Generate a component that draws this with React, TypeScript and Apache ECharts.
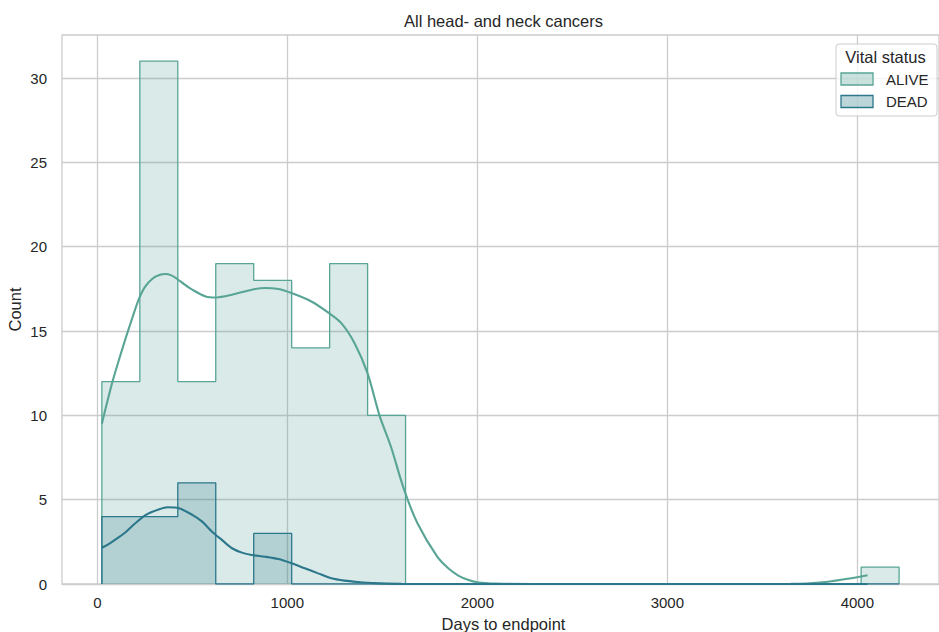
import React, { useEffect, useRef } from "react";
import * as echarts from "echarts";

const binEdges = [24, 223.8, 423.6, 623.4, 823.2, 1023, 1222.8, 1422.6, 1622.4, 1822.2, 2022, 2221.8, 2421.6, 2621.4, 2821.2, 3021, 3220.8, 3420.6, 3620.4, 3820.2, 4020, 4219.8];
const aliveCounts = [12, 31, 12, 19, 18, 14, 19, 10, 0, 0, 0, 0, 0, 0, 0, 0, 0, 0, 0, 0, 1];
const deadCounts = [4, 4, 6, 0, 3, 0, 0, 0, 0, 0, 0, 0, 0, 0, 0, 0, 0, 0, 0, 0, 0];

const aliveKdeX = [24, 50, 80, 117, 150, 185, 217, 250, 290, 330, 357, 390, 421, 460, 500, 570, 625, 709, 813, 883, 953, 1022, 1127, 1218, 1284, 1354, 1422, 1485, 1545, 1615, 1685, 1789, 1850, 1900, 1950, 2000, 2100, 2300, 2700, 3100, 3500, 3650, 3750, 3845, 3950, 4054];
const aliveKdeY = [9.5, 10.7, 12.0, 13.4, 14.6, 15.8, 16.85, 17.6, 18.1, 18.33, 18.38, 18.3, 18.08, 17.75, 17.45, 17.05, 16.99, 17.15, 17.45, 17.55, 17.49, 17.25, 16.75, 16.07, 15.47, 14.28, 12.5, 10.0, 8.15, 5.58, 3.6, 1.62, 0.9, 0.5, 0.25, 0.1, 0.02, 0, 0, 0, 0, 0.01, 0.04, 0.13, 0.31, 0.52];

const deadKdeX = [24, 64, 110, 152, 200, 256, 326, 369, 430, 500, 552, 604, 657, 709, 761, 813, 883, 953, 1022, 1092, 1162, 1232, 1301, 1371, 1458, 1600, 1800, 2200, 2700, 3200, 3700, 4054];
const deadKdeY = [2.15, 2.4, 2.75, 3.1, 3.6, 4.1, 4.43, 4.55, 4.49, 4.1, 3.7, 3.1, 2.6, 2.12, 1.86, 1.72, 1.62, 1.48, 1.23, 0.93, 0.63, 0.34, 0.2, 0.12, 0.05, 0.01, 0, 0, 0, 0, 0, 0];

const xTicks = [0, 1000, 2000, 3000, 4000];
const yTicks = [0, 5, 10, 15, 20, 25, 30];

const FONT = "Liberation Sans, Arial, sans-serif";
const TXT = "#262626";
const ALIVE_LINE = "#58a595";
const ALIVE_FILL = "rgba(80,158,146,0.3)";
const DEAD_LINE = "#2b778b";
const DEAD_FILL = "rgba(39,118,132,0.31)";

function stepPoints(counts: number[]) {
  const pts: number[][] = [[binEdges[0], 0]];
  counts.forEach((c, i) => {
    pts.push([binEdges[i], c]);
    pts.push([binEdges[i + 1], c]);
  });
  pts.push([binEdges[binEdges.length - 1], 0]);
  return pts;
}

export default function App() {
  const ref = useRef<HTMLDivElement>(null);
  useEffect(() => {
    if (!ref.current) return;
    const chart = echarts.init(ref.current, undefined, { renderer: "svg" });
    const option: any = {
      animation: false,
      backgroundColor: "#ffffff",
      grid: {
        left: 62,
        top: 35,
        width: 883,
        height: 549,
        show: true,
        borderColor: "#cccccc",
        borderWidth: 1.3,
        backgroundColor: "transparent",
      },
      xAxis: {
        type: "value",
        min: -185.8,
        max: 4429.8,
        axisLine: { show: false },
        axisTick: { show: false, customValues: xTicks },
        axisLabel: {
          customValues: xTicks,
          formatter: (v: number) => String(v),
          color: TXT,
          fontSize: 15,
          fontFamily: FONT,
          margin: 11,
        },
        splitLine: { show: true, lineStyle: { color: "#cccccc", width: 1.3 } },
      },
      yAxis: {
        type: "value",
        min: 0,
        max: 32.55,
        axisLine: { show: false },
        axisTick: { show: false, customValues: yTicks },
        axisLabel: {
          customValues: yTicks,
          formatter: (v: number) => String(v),
          color: TXT,
          fontSize: 15,
          fontFamily: FONT,
          margin: 15,
        },
        splitLine: { show: true, lineStyle: { color: "#cccccc", width: 1.3 } },
      },
      series: [
        {
          name: "ALIVE",
          type: "line",
          data: stepPoints(aliveCounts),
          symbol: "none",
          lineStyle: { color: ALIVE_LINE, width: 1.3 },
          areaStyle: { color: ALIVE_FILL, origin: 0 },
          z: 2,
        },
        {
          name: "DEAD",
          type: "line",
          data: stepPoints(deadCounts),
          symbol: "none",
          lineStyle: { color: DEAD_LINE, width: 1.3 },
          areaStyle: { color: DEAD_FILL, origin: 0 },
          z: 3,
        },
        {
          name: "ALIVE KDE",
          type: "line",
          data: aliveKdeX.map((x, i) => [x, aliveKdeY[i]]),
          symbol: "none",
          smooth: 0.3,
          lineStyle: { color: ALIVE_LINE, width: 2.1 },
          z: 4,
        },
        {
          name: "DEAD KDE",
          type: "line",
          data: deadKdeX.map((x, i) => [x, deadKdeY[i]]),
          symbol: "none",
          smooth: 0.3,
          lineStyle: { color: DEAD_LINE, width: 2.1 },
          z: 5,
        },
      ],
      graphic: [
        {
          type: "text",
          x: 503.5,
          y: 21,
          z: 100,
          style: { text: "All head- and neck cancers", fill: TXT, fontSize: 16.5, fontFamily: FONT, align: "center", verticalAlign: "middle" },
        },
        {
          type: "text",
          x: 503.5,
          y: 623.5,
          z: 100,
          style: { text: "Days to endpoint", fill: TXT, fontSize: 16.5, fontFamily: FONT, align: "center", verticalAlign: "middle" },
        },
        {
          type: "text",
          x: 14.5,
          y: 309.5,
          rotation: Math.PI / 2,
          z: 100,
          style: { text: "Count", fill: TXT, fontSize: 16.5, fontFamily: FONT, align: "center", verticalAlign: "middle" },
        },
        {
          type: "rect",
          z: 100,
          shape: { x: 836, y: 44, width: 101, height: 72, r: 3 },
          style: { fill: "rgba(255,255,255,0.8)", stroke: "#cccccc", lineWidth: 1 },
        },
        {
          type: "text",
          x: 885.5,
          y: 56.5,
          z: 101,
          style: { text: "Vital status", fill: TXT, fontSize: 16.5, fontFamily: FONT, align: "center", verticalAlign: "middle" },
        },
        {
          type: "rect",
          z: 101,
          shape: { x: 841, y: 73, width: 32, height: 12 },
          style: { fill: ALIVE_FILL, stroke: ALIVE_LINE, lineWidth: 1.3 },
        },
        {
          type: "text",
          x: 886,
          y: 79.5,
          z: 101,
          style: { text: "ALIVE", fill: TXT, fontSize: 15, fontFamily: FONT, align: "left", verticalAlign: "middle" },
        },
        {
          type: "rect",
          z: 101,
          shape: { x: 841, y: 95.5, width: 32, height: 12 },
          style: { fill: DEAD_FILL, stroke: DEAD_LINE, lineWidth: 1.3 },
        },
        {
          type: "text",
          x: 886,
          y: 101.5,
          z: 101,
          style: { text: "DEAD", fill: TXT, fontSize: 15, fontFamily: FONT, align: "left", verticalAlign: "middle" },
        },
      ],
    };
    chart.setOption(option);
    return () => chart.dispose();
  }, []);
  return (
    <div
      ref={ref}
      style={{ position: "absolute", left: 0, top: 0, width: 939, height: 632 }}
    />
  );
}
